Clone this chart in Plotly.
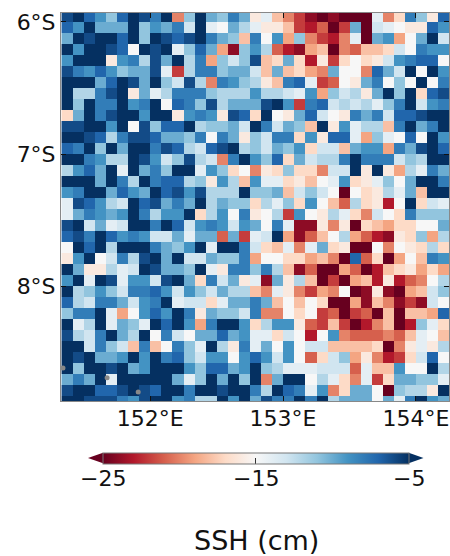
import numpy as np
import plotly.graph_objects as go

# SSH magnitude read per cell (cm below datum), top row first, 36 rows x 35 columns
ssh_depth = [
[6,5,7,9,11,7,5,6,8,5,20,11,5,10,11,8,10,16,14,18,20,22,24,25,24,25,25,25,14,20,17,8,11,16,7],
[7,9,5,10,10,10,5,11,9,10,8,13,5,14,15,10,12,14,16,16,18,22,23,21,25,22,10,25,13,14,15,16,16,7,9],
[10,5,6,5,5,7,5,11,5,6,7,6,5,8,10,11,18,8,15,9,19,11,20,22,23,20,14,25,10,9,19,15,10,5,13],
[5,9,5,5,6,7,15,5,6,5,14,11,7,10,19,24,11,9,12,21,23,24,19,18,25,20,21,18,18,17,13,15,8,9,9],
[9,5,5,5,16,9,8,12,6,10,5,12,8,19,11,13,11,6,18,17,10,17,23,16,22,17,15,17,16,13,9,8,7,7,15],
[6,8,9,7,9,11,10,10,6,14,22,12,8,8,11,10,10,13,18,10,18,17,19,20,10,15,15,20,7,10,13,5,15,5,9],
[5,5,5,10,7,5,6,10,5,11,13,6,12,20,8,9,11,12,16,18,8,7,14,22,21,15,16,10,8,15,11,15,5,15,8],
[5,12,12,8,6,5,16,10,14,12,8,8,8,11,12,12,12,9,12,12,13,14,9,19,11,13,12,16,10,5,11,5,17,7,6],
[5,11,5,8,8,5,9,8,5,15,7,8,11,6,12,10,10,10,6,5,9,22,8,7,13,12,13,12,14,11,8,5,13,9,8],
[17,10,5,8,6,5,5,9,5,5,16,9,8,9,16,6,7,17,5,15,16,10,7,13,15,16,8,10,8,13,7,7,6,5,5],
[6,6,5,5,9,5,15,6,11,7,7,5,12,11,11,10,13,5,8,13,10,11,18,5,16,9,14,12,12,18,8,5,10,8,5],
[5,5,6,7,12,8,6,6,7,10,10,11,8,15,8,10,16,11,13,8,8,17,9,16,7,7,14,19,11,14,15,7,15,5,9],
[7,8,5,11,5,10,5,5,8,6,7,12,13,7,6,5,12,11,13,10,11,9,17,13,13,18,10,9,9,19,8,10,6,5,7],
[5,5,8,9,12,12,5,6,9,13,11,6,12,13,20,8,5,9,11,7,17,10,13,12,12,8,5,8,8,8,13,11,12,5,5],
[12,9,7,10,5,14,5,10,8,11,5,5,14,9,11,17,15,20,16,17,11,17,17,20,13,13,5,16,5,16,19,12,14,8,10],
[5,5,5,10,5,8,12,5,8,7,7,12,11,16,9,12,18,9,14,14,17,16,18,15,14,9,17,16,14,11,15,10,5,5,8],
[9,8,5,5,10,7,9,10,5,7,6,9,6,12,12,12,5,11,11,10,18,13,11,13,15,25,15,17,16,12,14,10,18,5,5],
[14,6,7,9,12,13,5,7,6,10,8,10,5,12,10,11,11,17,12,14,11,17,9,15,18,21,12,17,16,23,15,5,17,13,14],
[14,10,8,9,10,9,5,8,12,9,9,5,17,12,9,15,8,16,15,12,22,9,15,16,12,14,17,20,13,15,17,8,11,11,11],
[6,5,13,10,14,13,5,5,8,5,7,13,9,8,9,13,9,10,15,8,14,24,24,16,20,16,25,17,18,19,17,17,15,15,10],
[7,6,8,5,7,9,8,9,13,13,10,14,10,10,21,10,22,14,13,5,19,24,21,18,15,12,19,21,23,24,16,17,11,19,12],
[15,5,7,5,12,5,5,5,8,10,11,9,5,14,5,5,8,13,17,18,14,20,14,10,17,16,25,25,15,20,15,16,17,12,17],
[16,9,5,15,13,8,12,6,5,10,5,13,13,10,11,11,8,19,15,15,17,17,19,18,20,25,7,21,17,25,19,15,18,8,9],
[5,10,16,16,12,14,13,5,6,10,10,11,5,14,16,8,8,11,8,12,18,24,21,25,25,19,21,25,23,18,17,16,19,17,19],
[9,5,14,5,6,14,9,9,13,6,5,10,17,8,13,10,16,14,24,10,16,12,18,25,22,25,19,18,23,16,23,21,20,15,12],
[5,12,11,9,11,13,8,8,7,9,13,9,11,13,10,12,12,18,20,14,16,20,22,19,20,15,25,24,16,24,25,19,18,13,11],
[7,12,13,8,8,10,13,9,8,5,14,13,13,17,14,10,10,8,10,18,15,18,15,17,25,25,19,24,18,20,24,22,24,13,15],
[11,8,8,5,14,19,15,9,7,9,5,8,16,10,11,11,13,8,20,20,15,17,15,22,21,25,22,21,25,18,25,18,18,19,7],
[5,14,12,5,14,10,11,14,5,7,5,9,19,8,5,5,9,17,12,9,9,16,21,22,18,22,25,23,20,18,25,23,11,14,17],
[6,12,13,8,5,10,12,5,15,8,13,15,10,10,7,10,9,14,14,17,13,15,23,15,9,20,21,21,21,20,21,18,14,15,18],
[5,5,13,8,11,13,18,8,18,15,8,11,14,5,12,16,8,14,10,15,9,15,13,13,18,18,18,18,17,25,20,16,14,16,12],
[5,6,5,10,10,9,5,9,5,8,7,11,13,9,9,15,9,7,9,13,9,15,21,17,13,11,19,16,20,23,22,17,13,7,15],
[5,11,5,5,6,5,10,9,5,5,5,9,11,7,7,10,9,5,11,12,14,14,14,13,13,13,21,14,18,18,9,15,15,5,12],
[10,8,10,5,14,5,5,5,5,5,10,14,11,5,10,5,11,5,20,10,5,5,15,12,14,17,20,14,22,17,10,10,11,11,14],
[6,5,5,7,7,6,5,6,7,5,5,8,5,5,6,5,5,8,12,5,7,8,14,9,20,17,10,10,15,25,11,12,12,16,5],
[5,5,6,6,6,8,9,6,5,5,9,8,12,12,5,9,5,10,6,8,8,5,8,5,12,10,10,10,15,10,14,8,5,9,10],
]

tick_lons = [152, 153, 154]
tick_lats = [-6, -7, -8]
lon_labels = ["152°E", "153°E", "154°E"]
lat_labels = ["6°S", "7°S", "8°S"]
cbar_ticks = [-25, -15, -5]
cbar_labels = ["−25", "−15", "−5"]
island_lons = [151.344, 151.676, 151.91]
island_lats = [-8.618, -8.693, -8.80]

ssh = -np.array(ssh_depth, dtype=float)
rows, cols = ssh.shape
lon = 151.3333 + (np.arange(cols) + 0.5) / 12
lat = -5.9167 - (np.arange(rows) + 0.5) / 12

rdbu = ["#67001f", "#b2182b", "#d6604d", "#f4a582", "#fddbc7", "#f7f7f7",
        "#d1e5f0", "#92c5de", "#4393c3", "#2166ac", "#053061"]
colorscale = [[i / 10, c] for i, c in enumerate(rdbu)]

W, H = 450, 556
L, R, T, B = 61, 449, 13, 401
PW, PH = R - L, B - T
FONT = "DejaVu Sans"
CB_LEFT, CB_RIGHT = 103, 408.7


def px(x):
    return (x - L) / PW


def py(y):
    return (B - y) / PH


fig = go.Figure()
fig.add_trace(go.Heatmap(
    x=lon, y=lat, z=ssh, zmin=-25, zmax=-5, colorscale=colorscale,
    hoverongaps=False,
    colorbar=dict(
        orientation="h", lenmode="pixels", len=CB_RIGHT - CB_LEFT, thickness=10.6,
        thicknessmode="pixels", x=px((CB_LEFT + CB_RIGHT) / 2), xanchor="center", xpad=0,
        y=py(452.7), yanchor="top", ypad=0,
        tickmode="array", tickvals=cbar_ticks, ticks="inside", ticklen=6,
        showticklabels=False,
        tickcolor="#333", tickwidth=1, outlinecolor="#777", outlinewidth=1,
    ),
))
fig.add_trace(go.Scatter(
    x=island_lons, y=island_lats, mode="markers", showlegend=False,
    marker=dict(color="#888", size=5, line=dict(width=0)),
))

axis_common = dict(
    showgrid=False, zeroline=False, ticks="inside", ticklen=5, tickwidth=1,
    tickcolor="#111", showline=True, linecolor="#888", linewidth=1,
    mirror="allticks", tickfont=dict(family=FONT, size=22, color="#111"),
)

cbar_annotations = [
    dict(text=label, xref="paper", yref="paper",
         x=px(CB_LEFT + (v - cbar_ticks[0]) / (cbar_ticks[-1] - cbar_ticks[0]) * (CB_RIGHT - CB_LEFT)),
         y=py(478), xanchor="center", yanchor="middle", showarrow=False,
         font=dict(family=FONT, size=22, color="#111"))
    for v, label in zip(cbar_ticks, cbar_labels)
]

fig.update_layout(
    width=W, height=H, autosize=False, paper_bgcolor="white", plot_bgcolor="white",
    margin=dict(l=L, r=W - R, t=T, b=H - B, pad=0, autoexpand=False),
    xaxis=dict(range=[151.329, 154.249], tickmode="array", tickvals=tick_lons,
               ticktext=lon_labels, ticklabelstandoff=-2, **axis_common),
    yaxis=dict(range=[-8.868, -5.932], tickmode="array", tickvals=tick_lats,
               ticktext=lat_labels, **axis_common),
    annotations=cbar_annotations + [dict(
        text="SSH (cm)", xref="paper", yref="paper", x=px(256.5), y=py(540),
        xanchor="center", yanchor="middle", showarrow=False,
        font=dict(family=FONT, size=27, color="#111"),
    )],
    shapes=[
        dict(type="path", xref="paper", yref="paper", layer="above",
             path=f"M {px(CB_LEFT)},{py(452.7)} L {px(88)},{py(458)} L {px(CB_LEFT)},{py(463.3)} Z",
             fillcolor="#67001f", line=dict(width=0)),
        dict(type="path", xref="paper", yref="paper", layer="above",
             path=f"M {px(CB_RIGHT)},{py(452.7)} L {px(423.5)},{py(458)} L {px(CB_RIGHT)},{py(463.3)} Z",
             fillcolor="#053061", line=dict(width=0)),
    ],
)
fig.write_html(
    "out.html",
    config=dict(displayModeBar=False),
    post_script="document.body.style.margin='0';document.documentElement.style.overflow='hidden';",
)
